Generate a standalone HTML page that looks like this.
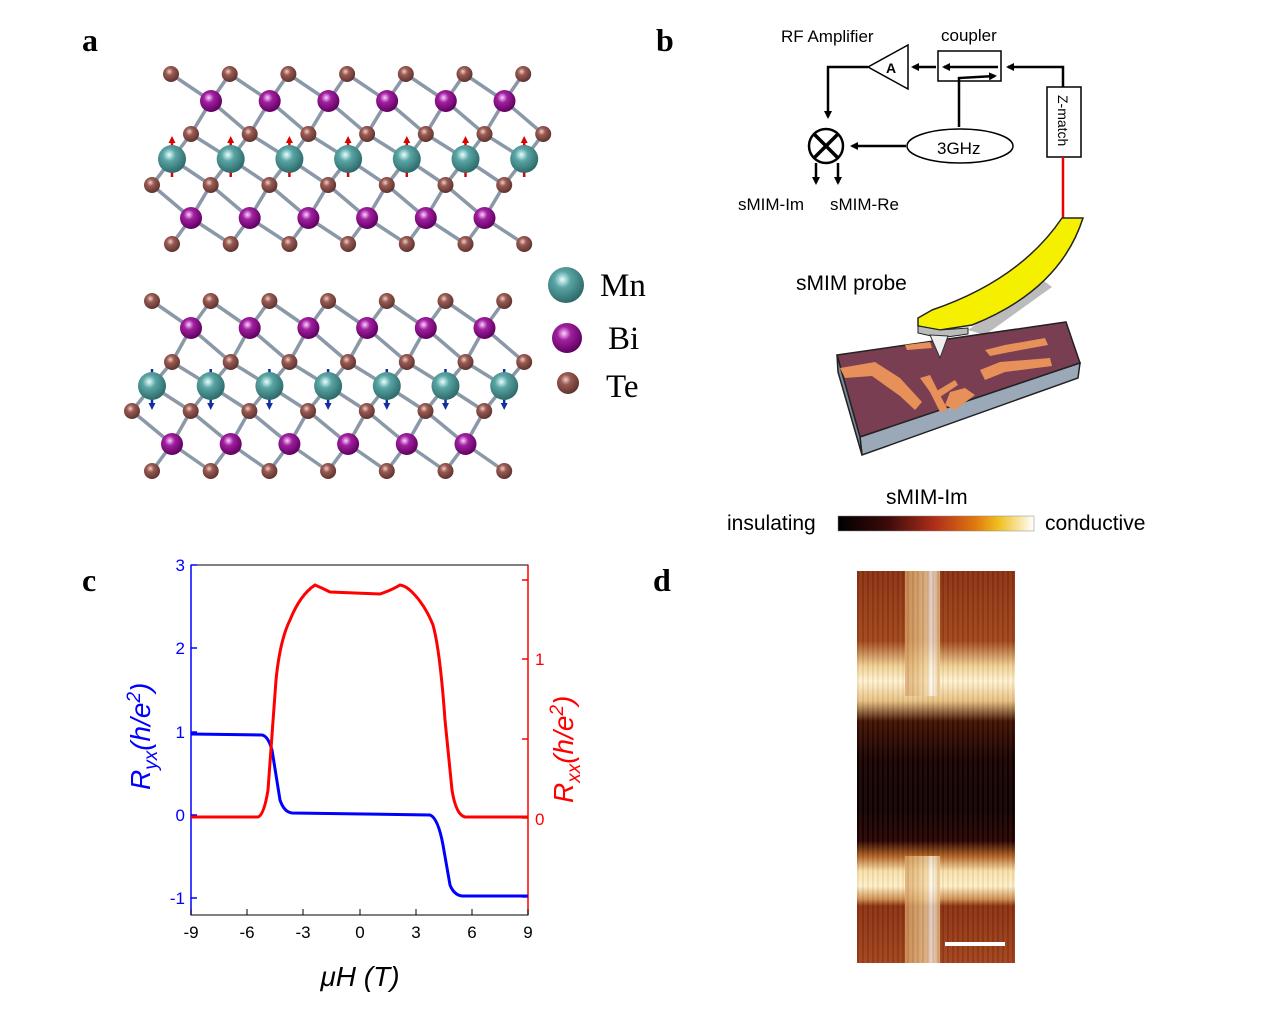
<!DOCTYPE html>
<html><head><meta charset="utf-8"><style>
body{margin:0;width:1265px;height:1013px;background:#fff;overflow:hidden;position:relative;font-family:"Liberation Sans",sans-serif}
.lbl{position:absolute;font-family:"Liberation Serif",serif;font-weight:bold;font-size:32px}
</style></head><body>
<div class="lbl" style="left:82px;top:22px">a</div>
<div class="lbl" style="left:656px;top:22px">b</div>
<div class="lbl" style="left:82px;top:562px">c</div>
<div class="lbl" style="left:653px;top:562px">d</div>

<svg width="1265" height="1013" style="position:absolute;left:0;top:0">
<defs>
<radialGradient id="gMn" cx="40%" cy="35%" r="65%"><stop offset="0" stop-color="#e8ffff"/><stop offset="0.35" stop-color="#5aa5a5"/><stop offset="1" stop-color="#2e6a6a"/></radialGradient>
<radialGradient id="gBi" cx="40%" cy="35%" r="65%"><stop offset="0" stop-color="#ffd0ff"/><stop offset="0.35" stop-color="#a020a0"/><stop offset="1" stop-color="#600060"/></radialGradient>
<radialGradient id="gTe" cx="40%" cy="35%" r="65%"><stop offset="0" stop-color="#f0d0c8"/><stop offset="0.35" stop-color="#9a5a52"/><stop offset="1" stop-color="#5e3430"/></radialGradient>
</defs>
<g id="bonds" stroke="#8a98a8" stroke-width="3.5"></g>
<g id="arrows"></g>
<g id="atoms"></g>
<circle cx="566" cy="285" r="18" fill="url(#gMn)"/>
<circle cx="567" cy="338" r="15" fill="url(#gBi)"/>
<circle cx="568" cy="383" r="11" fill="url(#gTe)"/>
<text x="600" y="296" font-family="Liberation Serif" font-size="33">Mn</text>
<text x="608" y="349" font-family="Liberation Serif" font-size="33">Bi</text>
<text x="606" y="397" font-family="Liberation Serif" font-size="33">Te</text>
</svg>

<svg width="1265" height="1013" style="position:absolute;left:0;top:0">
<defs><marker id="ah" markerWidth="8" markerHeight="8" refX="6" refY="4" orient="auto" markerUnits="userSpaceOnUse"><path d="M0,0 L8,4 L0,8z" fill="#000"/></marker></defs>
<g stroke="#000" stroke-width="2.5" fill="none">
<path d="M868,67 L828,67 L828,117" marker-end="url(#ah)"/>
<polygon points="868,67 908,45 908,89" fill="#fff" stroke-width="1.5"/>
<rect x="938" y="51" width="63" height="30" fill="#fff" stroke-width="1.5"/>
<path d="M936,67 L913,67" marker-end="url(#ah)"/>
<path d="M998,67 L944,67" marker-end="url(#ah)"/>
<path d="M959,127 L959,78 L995,76" marker-end="url(#ah)"/>
<path d="M1063,87 L1063,67 L1008,67" marker-end="url(#ah)"/>
<rect x="1047" y="87" width="34" height="70" fill="#fff" stroke-width="1.5"/>
<ellipse cx="960" cy="146" rx="53" ry="17" fill="#fff" stroke-width="1.5"/>
<path d="M906,146 L852,146" marker-end="url(#ah)"/>
<circle cx="826" cy="146" r="17" fill="#fff"/>
<path d="M814,134 L838,158 M838,134 L814,158" stroke-width="3.5"/>
<path d="M816,163 L816,183" marker-end="url(#ah)"/>
<path d="M838,163 L838,183" marker-end="url(#ah)"/>
</g>
<line x1="1063" y1="157" x2="1063" y2="218" stroke="#e00" stroke-width="2.5"/>
<text x="886" y="73" font-size="14" font-weight="bold">A</text>
<text x="781" y="42" font-size="17">RF Amplifier</text>
<text x="941" y="41" font-size="17">coupler</text>
<text x="937" y="154" font-size="17">3GHz</text>
<text x="738" y="210" font-size="17">sMIM-Im</text>
<text x="830" y="210" font-size="17">sMIM-Re</text>
<text x="0" y="0" font-size="14" transform="translate(1058,95) rotate(90)">Z-match</text>
<text x="796" y="290" font-size="21">sMIM probe</text>
<polygon points="968,330 1040,278 1052,287 985,335" fill="#bbb"/>
<!-- substrate -->
<polygon points="837,355 1066,322 1080,363 860,437" fill="#7a3e52" stroke="#222" stroke-width="1.5"/>
<polygon points="860,437 1080,363 1078,378 862,455" fill="#9aa8b8" stroke="#222" stroke-width="1.5"/>
<polygon points="837,355 860,437 862,455 838,372" fill="#7a8898" stroke="#222" stroke-width="1.5"/>
<g fill="#e8905a">
<polygon points="840,368 875,362 900,378 922,402 915,410 900,396 872,376 845,378"/>
<polygon points="920,378 930,375 940,395 948,410 940,412 930,392"/>
<polygon points="950,392 965,388 975,395 955,410 945,405"/>
<polygon points="980,370 1000,362 1050,358 1052,366 1005,372 985,380"/>
<polygon points="985,350 1005,345 1045,338 1048,345 1010,352 990,356"/>
<polygon points="905,345 930,342 932,348 907,350"/>
<polygon points="935,392 955,380 958,385 940,397"/>
</g>
<path d="M918,318 L932,310 Q1020,280 1062,218 L1083,218 Q1060,290 972,325 L940,330 L918,326z" fill="#f5f000" stroke="#222" stroke-width="1.5"/>
<polygon points="918,326 940,330 968,328 968,334 940,338 918,333" fill="#bbb" stroke="#222" stroke-width="1"/>
<polygon points="930,335 948,336 940,358" fill="#eee" stroke="#333" stroke-width="1"/>
<defs><linearGradient id="cb"><stop offset="0" stop-color="#000"/><stop offset="0.25" stop-color="#3a0a0a"/><stop offset="0.5" stop-color="#b03018"/><stop offset="0.7" stop-color="#e07810"/><stop offset="0.82" stop-color="#f0c020"/><stop offset="1" stop-color="#fff"/></linearGradient></defs>
<rect x="838" y="516" width="196" height="15" fill="url(#cb)" stroke="#888" stroke-width="0.5"/>
<text x="886" y="504" font-size="21">sMIM-Im</text>
<text x="727" y="530" font-size="21">insulating</text>
<text x="1045" y="530" font-size="21">conductive</text>
</svg>

<svg width="1265" height="1013" style="position:absolute;left:0;top:0">
<rect x="191" y="565" width="337" height="350" fill="none" stroke="#000" stroke-width="1"/>
<line x1="191" y1="565" x2="191" y2="915" stroke="#00f" stroke-width="1.5"/>
<line x1="528" y1="565" x2="528" y2="915" stroke="#f00" stroke-width="1.5"/>
<g stroke="#00f" stroke-width="1.5"><line x1="191" y1="565" x2="197" y2="565"/><line x1="191" y1="648" x2="197" y2="648"/><line x1="191" y1="732" x2="197" y2="732"/><line x1="191" y1="815" x2="197" y2="815"/><line x1="191" y1="898" x2="197" y2="898"/></g>
<g stroke="#f00" stroke-width="1.5"><line x1="522" y1="580" x2="528" y2="580"/><line x1="522" y1="659" x2="528" y2="659"/><line x1="522" y1="739" x2="528" y2="739"/><line x1="522" y1="818" x2="528" y2="818"/><line x1="522" y1="897" x2="528" y2="897"/></g>
<g stroke="#000" stroke-width="1"><line x1="191" y1="915" x2="191" y2="909"/><line x1="247" y1="915" x2="247" y2="909"/><line x1="303" y1="915" x2="303" y2="909"/><line x1="360" y1="915" x2="360" y2="909"/><line x1="416" y1="915" x2="416" y2="909"/><line x1="472" y1="915" x2="472" y2="909"/><line x1="528" y1="915" x2="528" y2="909"/></g>
<g fill="#00f" font-size="17" text-anchor="end"><text x="185" y="571">3</text><text x="185" y="654">2</text><text x="185" y="738">1</text><text x="185" y="821">0</text><text x="185" y="904">-1</text></g>
<g fill="#f00" font-size="17"><text x="535" y="665">1</text><text x="535" y="825">0</text></g>
<g font-size="17" text-anchor="middle"><text x="191" y="938">-9</text><text x="247" y="938">-6</text><text x="303" y="938">-3</text><text x="360" y="938">0</text><text x="416" y="938">3</text><text x="472" y="938">6</text><text x="528" y="938">9</text></g>
<text x="360" y="986" font-size="28" font-style="italic" text-anchor="middle">μH (T)</text>
<text transform="translate(150,790) rotate(-90)" fill="#00f" font-size="28" font-style="italic">R<tspan font-size="19" dy="7">yx</tspan><tspan dy="-7">(h/e</tspan><tspan font-size="19" dy="-10">2</tspan><tspan dy="10">)</tspan></text>
<text transform="translate(573,803) rotate(-90)" fill="#f00" font-size="28" font-style="italic">R<tspan font-size="19" dy="7">xx</tspan><tspan dy="-7">(h/e</tspan><tspan font-size="19" dy="-10">2</tspan><tspan dy="10">)</tspan></text>
<path d="M191,734 L262,735 Q268,736 272,750 L280,800 Q284,812 292,813 L430,815 Q438,818 443,845 L450,885 Q454,895 462,896 L528,896" fill="none" stroke="#00f" stroke-width="3"/>
<path d="M191,817 L258,817 Q264,815 268,790 L276,680 Q280,640 290,620 Q300,595 315,585 Q322,588 330,592 L380,594 Q392,590 400,585 Q406,586 412,592 Q425,605 433,625 Q440,650 445,720 L452,790 Q456,815 465,817 L528,817" fill="none" stroke="#f00" stroke-width="3"/>
</svg>

<div style="position:absolute;left:857px;top:571px;width:158px;height:392px;overflow:hidden;background:linear-gradient(to bottom,#8a3010 0px,#a04418 70px,#f0d090 95px,#fff2d0 110px,#e8c080 130px,#401000 150px,#150000 190px,#100000 240px,#250200 270px,#b06020 285px,#f8e0a8 300px,#fff0c8 315px,#d09050 328px,#8a3010 335px,#a04018 392px)">
<div style="position:absolute;left:48px;top:0;width:35px;height:125px;background:linear-gradient(to right,#d8a060,#f0d098 60%,#fff 75%,#e8c080);opacity:.75"></div>
<div style="position:absolute;left:48px;top:285px;width:35px;height:107px;background:linear-gradient(to right,#d8a060,#f0d098 60%,#fff 75%,#e8c080);opacity:.75"></div>
<div style="position:absolute;left:0;top:0;width:158px;height:392px;background:repeating-linear-gradient(to right,rgba(0,0,0,.06) 0 2px,rgba(255,255,255,.05) 2px 5px)"></div>
<div style="position:absolute;left:88px;top:371px;width:60px;height:4px;background:#fff"></div>
</div>

<script>
const NS="http://www.w3.org/2000/svg";
const atoms=[];
function row(y,x0,n,t){for(let i=0;i<n;i++)atoms.push([x0+i*58.7,y,t]);}
row(74,171,7,'Te');row(101,211,6,'Bi');row(134,191,7,'Te');row(159,172,7,'Mn');row(185,152,7,'Te');row(218,191,6,'Bi');row(244,172,7,'Te');
row(301,152,7,'Te');row(328,191,6,'Bi');row(362,172,7,'Te');row(386,152,7,'Mn');row(411,132,7,'Te');row(444,172,6,'Bi');row(471,152,7,'Te');
const b=document.getElementById('bonds'),a=document.getElementById('atoms'),ar=document.getElementById('arrows');
for(let i=0;i<atoms.length;i++)for(let j=i+1;j<atoms.length;j++){const[x1,y1]=atoms[i],[x2,y2]=atoms[j];const dy=Math.abs(y2-y1),dx=Math.abs(x2-x1);if(dy>10&&dy<40&&dx<50&&!((y1<260)!=(y2<260))){const l=document.createElementNS(NS,'line');l.setAttribute('x1',x1);l.setAttribute('y1',y1);l.setAttribute('x2',x2);l.setAttribute('y2',y2);b.appendChild(l);}}
for(const[x,y,t]of atoms){const r=t=='Mn'?14:t=='Bi'?11:8;if(t=='Mn'){const up=y<260;const c=up?'#d00':'#1030a0';
const l=document.createElementNS(NS,'line');l.setAttribute('x1',x);l.setAttribute('x2',x);l.setAttribute('y1',y-17);l.setAttribute('y2',y+18);l.setAttribute('stroke',c);l.setAttribute('stroke-width','2.5');ar.appendChild(l);
const p=document.createElementNS(NS,'path');p.setAttribute('d',up?`M${x-3.5},${y-16}L${x},${y-23}L${x+3.5},${y-16}z`:`M${x-3.5},${y+17}L${x},${y+24}L${x+3.5},${y+17}z`);p.setAttribute('fill',c);ar.appendChild(p);}
const c=document.createElementNS(NS,'circle');c.setAttribute('cx',x);c.setAttribute('cy',y);c.setAttribute('r',r);c.setAttribute('fill','url(#g'+t+')');a.appendChild(c);}
</script>
</body></html>
